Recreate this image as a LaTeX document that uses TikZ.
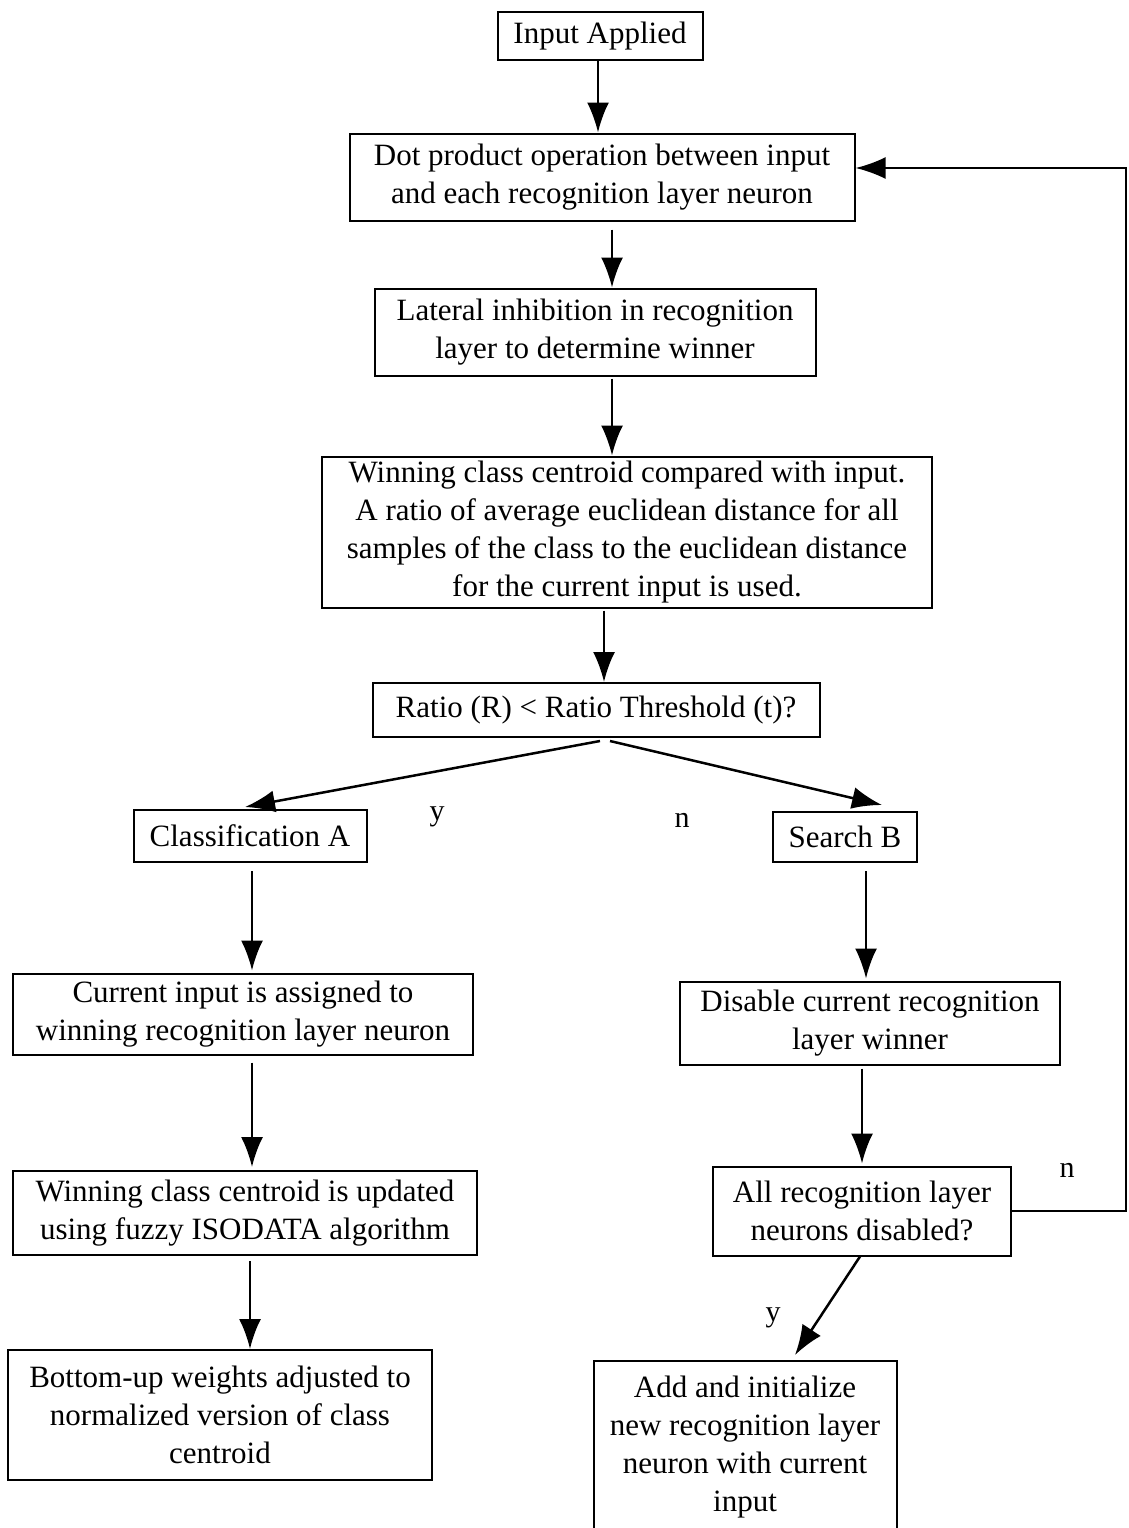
\documentclass[tikz,border=0pt]{standalone}
\usepackage{fontspec}
\setmainfont{Liberation Serif}
\usetikzlibrary{arrows.meta}
\begin{document}
\begin{tikzpicture}[x=1pt,y=-1pt,
  box/.style={draw,line width=2pt,align=center,inner sep=0pt,
    font=\fontsize{31}{38}\selectfont},
  arr/.style={line width=2.5pt,-{Latex[length=30pt,width=22pt]}},
  lbl/.style={font=\fontsize{30}{32}\selectfont}]
\useasboundingbox[fill=white] (0,0) rectangle (1128,1528);
\node[box,minimum width=205,minimum height=48] (in) at (600,36) {Input Applied};
\node[box,minimum width=505,minimum height=87] (dot) at (602,177) {Dot product operation between input\\and each recognition layer neuron};
\node[box,minimum width=441,minimum height=87] (lat) at (595,332) {Lateral inhibition in recognition\\layer to determine winner};
\node[box,minimum width=610,minimum height=151] (win) at (627,532) {Winning class centroid compared with input.\\A ratio of average euclidean distance for all\\samples of the class to the euclidean distance\\for the current input is used.};
\node[box,minimum width=447,minimum height=54] (rat) at (596,710) {Ratio (R) < Ratio Threshold (t)?};
\node[box,minimum width=233,minimum height=52] (ca) at (250,836) {Classification A};
\node[box,minimum width=144,minimum height=50] (sb) at (845,837) {Search B};
\node[box,minimum width=460,minimum height=81] (cur) at (243,1014) {Current input is assigned to\\winning recognition layer neuron};
\node[box,minimum width=380,minimum height=83] (dis) at (870,1023) {Disable current recognition\\layer winner};
\node[box,minimum width=464,minimum height=84] (upd) at (245,1213) {Winning class centroid is updated\\using fuzzy ISODATA algorithm};
\node[box,minimum width=298,minimum height=89] (all) at (862,1211) {All recognition layer\\neurons disabled?};
\node[box,minimum width=424,minimum height=130] (bot) at (220,1415) {Bottom-up weights adjusted to\\normalized version of class\\centroid};
\node[box,minimum width=303,minimum height=172,anchor=north] (add) at (745,1360) {Add and initialize\\new recognition layer\\neuron with current\\input};
\draw[arr] (in.south -| 598,0) -- (dot.north -| 598,0);
\draw[arr] ([yshift=-8]dot.south -| 612,0) -- (lat.north -| 612,0);
\draw[arr] ([yshift=-2]lat.south -| 612,0) -- (win.north -| 612,0);
\draw[arr] ([yshift=-2]win.south -| 604,0) -- (rat.north -| 604,0);
\draw[arr] ([xshift=4,yshift=-3]rat.south) -- ([xshift=-5,yshift=2]ca.north);
\draw[arr] ([xshift=14,yshift=-3]rat.south) -- ([xshift=37,yshift=6]sb.north);
\draw[arr] ([yshift=-8]ca.south -| 252,0) -- ([yshift=2]cur.north -| 252,0);
\draw[arr] ([yshift=-8]sb.south -| 866,0) -- ([yshift=2]dis.north -| 866,0);
\draw[arr] ([yshift=-7]cur.south -| 252,0) -- ([yshift=3]upd.north -| 252,0);
\draw[arr] ([yshift=-3]dis.south -| 862,0) -- ([yshift=2]all.north -| 862,0);
\draw[arr] ([yshift=-5]upd.south -| 250,0) -- (bot.north -| 250,0);
\draw[arr] ([xshift=-2]all.south) -- ([xshift=50,yshift=5]add.north);
\coordinate (c1) at (1126,1211);
\coordinate (c2) at (1126,168);
\draw[arr] (all.east) -- (c1) -- (c2) -- (c2 -| dot.east);
\node[lbl] (ly1) at (437,817) {y};
\node[lbl] (ln1) at (682,820) {n};
\node[lbl] (ln2) at (1067,1170) {n};
\node[lbl] (ly2) at (773,1318) {y};
\end{tikzpicture}
\end{document}
